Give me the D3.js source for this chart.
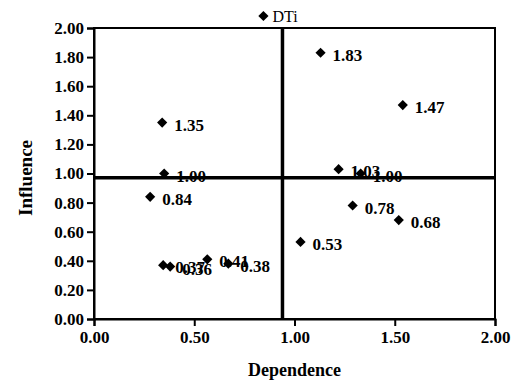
<!DOCTYPE html>
<html>
<head>
<meta charset="utf-8">
<script src="https://cdn.jsdelivr.net/npm/d3@7"></script>
<style>
  body { margin: 0; background: #fff; }
  svg { display: block; }
</style>
</head>
<body>
<svg id="chart"></svg>
<script>
// dependence (x) and influence (y) of each factor, label = influence value
const seriesName = "DTi";
const dependence = [0.35, 0.34, 1.13, 1.54, 1.22, 1.33, 0.28, 1.29, 1.52, 1.03, 0.345, 0.38, 0.565, 0.67];
const influence  = [1.00, 1.35, 1.83, 1.47, 1.03, 1.00, 0.84, 0.78, 0.68, 0.53, 0.37, 0.36, 0.41, 0.38];
const xTicks = [0, 0.5, 1, 1.5, 2];
const yTicks = [0, 0.2, 0.4, 0.6, 0.8, 1.0, 1.2, 1.4, 1.6, 1.8, 2.0];
const meanDependence = 0.94;
const meanInfluence = 0.97;

const width = 513, height = 384;
const margin = {top: 28, right: 18, bottom: 65, left: 94};
const font = "'Liberation Serif', 'Times New Roman', serif";

const svg = d3.select("#chart")
  .attr("width", width)
  .attr("height", height)
  .attr("font-family", font);

const x = d3.scaleLinear([0, 2], [margin.left, width - margin.right]);
const y = d3.scaleLinear([0, 2], [height - margin.bottom, margin.top]);

const data = dependence.map((d, i) => ({x: d, y: influence[i]}));

// frame (top + right)
svg.append("rect")
  .attr("x", x(0)).attr("y", y(2))
  .attr("width", x(2) - x(0)).attr("height", y(0) - y(2))
  .attr("fill", "none").attr("stroke", "#000").attr("stroke-width", 2);

// axes
const xAxis = svg.append("g")
  .attr("transform", `translate(0,${y(0)})`)
  .call(d3.axisBottom(x).tickValues(xTicks).tickFormat(d3.format(".2f")).tickSizeOuter(0).tickSize(7).tickPadding(5));
const yAxis = svg.append("g")
  .attr("transform", `translate(${x(0)},0)`)
  .call(d3.axisLeft(y).tickValues(yTicks).tickFormat(d3.format(".2f")).tickSizeOuter(0).tickSize(7).tickPadding(3));

[xAxis, yAxis].forEach(g => {
  g.select(".domain").attr("stroke-width", 2);
  g.selectAll(".tick line").attr("stroke-width", 2);
  g.selectAll(".tick text")
    .attr("fill", "#000")
    .attr("font-family", font)
    .attr("font-size", 17)
    .attr("font-weight", "bold");
});

// threshold lines
svg.append("line")
  .attr("x1", x(meanDependence)).attr("x2", x(meanDependence))
  .attr("y1", y(2)).attr("y2", y(0))
  .attr("stroke", "#000").attr("stroke-width", 3.5);
svg.append("line")
  .attr("x1", x(0)).attr("x2", x(2))
  .attr("y1", y(meanInfluence)).attr("y2", y(meanInfluence))
  .attr("stroke", "#000").attr("stroke-width", 3.5);

// points
const diamond = d3.symbol(d3.symbolSquare, 52);
svg.append("g")
  .selectAll("path")
  .data(data)
  .join("path")
  .attr("d", diamond)
  .attr("transform", d => `translate(${x(d.x)},${y(d.y)}) rotate(45)`)
  .attr("fill", "#000");

// labels
svg.append("g")
  .selectAll("text")
  .data(data)
  .join("text")
  .attr("x", d => x(d.x) + 12)
  .attr("y", d => y(d.y) + 8)
  .attr("font-size", 17)
  .attr("font-weight", "bold")
  .text(d => d3.format(".2f")(d.y));

// legend
const legend = svg.append("g").attr("transform", `translate(${x(0.845)},16)`);
legend.append("path").attr("d", diamond).attr("transform", "rotate(45)").attr("fill", "#000");
legend.append("text")
  .attr("x", 9).attr("y", 6)
  .attr("font-size", 16)
  .text(seriesName);

// axis titles
svg.append("text")
  .attr("x", x(1)).attr("y", 376)
  .attr("text-anchor", "middle")
  .attr("font-size", 18)
  .attr("font-weight", "bold")
  .text("Dependence");
svg.append("text")
  .attr("transform", `translate(32,178) rotate(-90)`)
  .attr("text-anchor", "middle")
  .attr("font-size", 19)
  .attr("font-weight", "bold")
  .text("Influence");
</script>
</body>
</html>
